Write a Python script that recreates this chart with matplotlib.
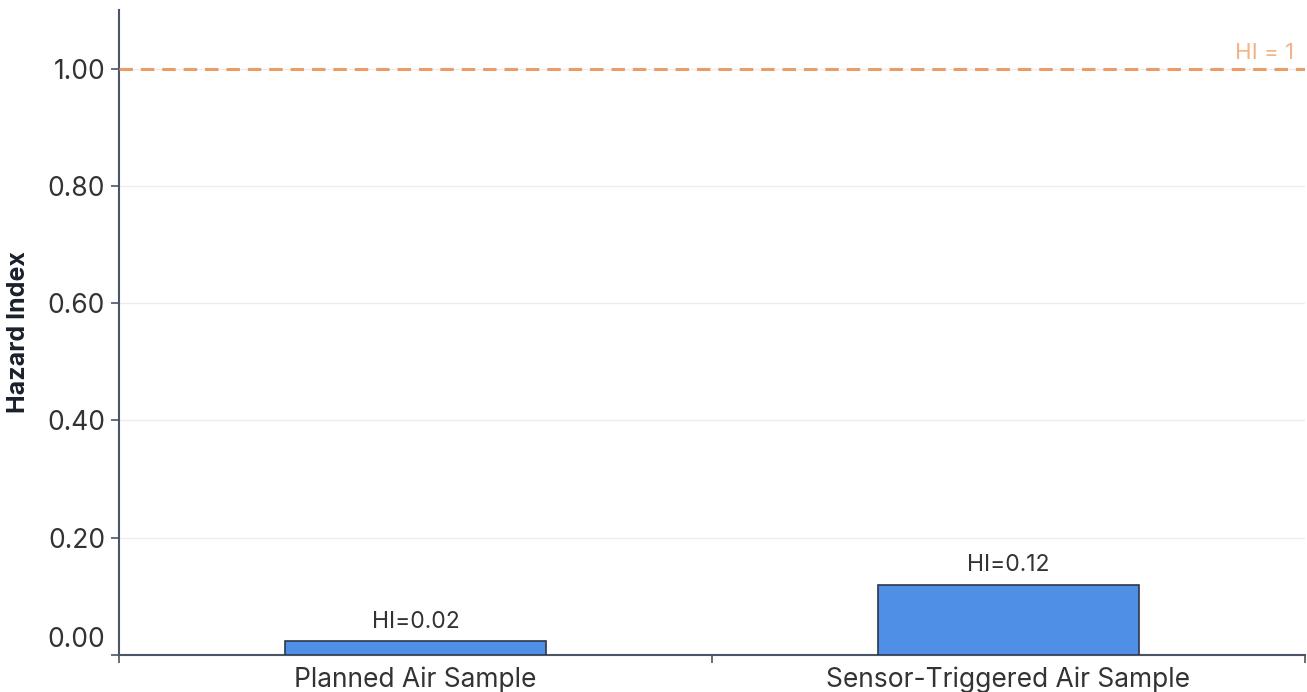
import numpy as np
import matplotlib.pyplot as plt
from matplotlib.ticker import FixedLocator
import matplotlib.transforms as mtransforms

# datos del grafico
categorias = ['Planned Air Sample', 'Sensor-Triggered Air Sample']
valores_hi = [0.024, 0.12]
umbral_hi = 1.0
ticks_y = [0.0, 0.2, 0.4, 0.6, 0.8, 1.0]

plt.rcParams['font.family'] = ['Inter', 'DejaVu Sans']

fig = plt.figure(figsize=(13.07, 6.92), dpi=100)
ax = fig.add_axes([119/1307, 1 - 655/692, (1305 - 119)/1307, (655 - 10)/692])

x = np.arange(len(categorias))
ax.bar(x, valores_hi, width=0.44, color='#4f8fe6', edgecolor='#2d3748', linewidth=1.2, zorder=3)

# etiquetas sobre las barras
for xi, v in zip(x, valores_hi):
    ax.annotate('HI={:.2f}'.format(v), (xi, v), xytext=(0, 6), textcoords='offset points',
                ha='center', va='bottom', fontsize=16.5, color='#333333')

# linea de referencia HI = 1
ax.axhline(umbral_hi, color='#ea9c66', linestyle=(0, (4.4, 2.6)), linewidth=2.2, zorder=4)
ax.annotate('HI = 1', (1.5, umbral_hi), xytext=(-8, 4), textcoords='offset points',
            ha='right', va='bottom', fontsize=16, color='#f2b48a')

ax.set_xlim(-0.5, 1.5)
ax.set_ylim(0, 1.1)
ax.set_yticks(ticks_y)
ax.set_yticklabels(['{:.2f}'.format(t) for t in ticks_y])
ax.yaxis.grid(True, color='#ececec', linewidth=1, zorder=0)

ax.set_xticks(x)
ax.set_xticklabels(categorias)
ax.xaxis.set_minor_locator(FixedLocator([-0.5, 0.5, 1.5]))
ax.tick_params(axis='x', which='major', length=0, pad=8, labelsize=19, labelcolor='#333333')
ax.tick_params(axis='x', which='minor', length=6, width=1.2, color='#4a5568')
ax.tick_params(axis='y', length=6, width=1.2, color='#4a5568', labelsize=19, labelcolor='#333333', pad=4)

# la etiqueta 0.00 aparece un poco arriba
etiq = ax.get_yticklabels()[0]
etiq.set_transform(etiq.get_transform() + mtransforms.ScaledTranslation(0, 18/100, fig.dpi_scale_trans))

for s in ['top', 'right']:
    ax.spines[s].set_visible(False)
for s in ['left', 'bottom']:
    ax.spines[s].set_color('#4a5568')
    ax.spines[s].set_linewidth(1.5)

ax.set_ylabel('Hazard Index', fontsize=18, fontweight='bold', color='#1a202c', labelpad=12)

fig.savefig('out.png', dpi=100)
